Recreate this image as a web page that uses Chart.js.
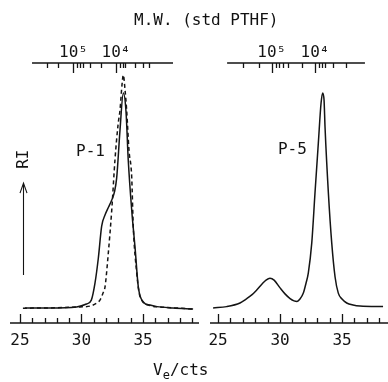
<!DOCTYPE html>
<html>
<head>
<meta charset="utf-8">
<script src="https://cdn.jsdelivr.net/npm/chart.js@4.4.0/dist/chart.umd.min.js"></script>
<style>
html, body { margin: 0; padding: 0; background: #fff; }
#wrap { position: relative; width: 388px; height: 382px; overflow: hidden;
        font-family: "DejaVu Sans Mono", monospace; color: #111; }
canvas { position: absolute; top: 0; }
.lbl { position: absolute; font-size: 16px; line-height: 16px; white-space: nowrap; }
.lbl sub { font-size: 12px; line-height: 0; vertical-align: -4px; }
</style>
</head>
<body>
<div id="wrap">
  <canvas id="p1" width="205" height="382" style="left:0"></canvas>
  <canvas id="p5" width="183" height="382" style="left:205px"></canvas>
  <div class="lbl" style="left:134px;top:12px">M.W. (std PTHF)</div>
  <div class="lbl" style="left:153px;top:362px">V<sub>e</sub>/cts</div>
</div>
<script>
// elution volume (counts) and RI response
const p1SolidVe = [25.4, 27.4, 29.6, 30.4, 30.8, 31.1, 31.37, 31.64, 31.91, 32.2, 32.46, 32.68, 32.86, 33.13, 33.4, 33.62, 33.8, 34.08, 34.35, 34.62, 35.02, 35.57, 36.14, 37.44, 39.07];
const p1SolidRI = [5.8, 5.8, 6.2, 7.3, 8.8, 15.4, 25, 37.3, 41.5, 44.6, 47.3, 50.4, 55.8, 74.2, 88.5, 81.2, 62.7, 43.5, 29.2, 13.8, 8.1, 6.9, 6.3, 5.8, 5.4];

const p1DashVe = [25.24, 27.44, 29.88, 30.69, 31.24, 31.5, 31.75, 31.91, 32.18, 32.46, 32.72, 32.97, 33.13, 33.29, 33.4, 33.54, 33.67, 33.86, 34.08, 34.21, 34.49, 34.67, 34.89, 35.57, 36.38, 37.6, 39.07];
const p1DashRI = [5.7, 5.8, 6.2, 6.5, 7.7, 8.8, 11.5, 13.8, 26.9, 43.5, 62.7, 76.2, 81.9, 91.5, 95.4, 89.6, 81.9, 66.5, 56.2, 36.9, 19.2, 11.9, 8.8, 6.7, 6.2, 5.8, 5.4];

const p5Ve = [24.6, 25.7, 26.77, 27.26, 27.72, 28.12, 28.55, 28.87, 29.19, 29.52, 30.0, 30.4, 30.81, 31.13, 31.37, 31.61, 31.88, 32.1, 32.28, 32.56, 32.82, 33.09, 33.31, 33.44, 33.55, 33.63, 33.9, 34.17, 34.44, 34.7, 35.0, 35.38, 35.89, 36.45, 38.31];
const p5RI = [5.8, 6.3, 7.7, 9.2, 10.8, 12.7, 15, 16.5, 17.2, 16.5, 13.5, 11.2, 9.4, 8.5, 8.3, 9.2, 11.5, 15.4, 19.2, 30.8, 50, 69.2, 84.6, 88.5, 85.8, 75.4, 50, 30.8, 17.7, 11.5, 9.2, 7.7, 6.9, 6.5, 6.3];

// bottom axis (counts)
const veTicks = [25, 26, 27, 28, 29, 30, 31, 32, 33, 34, 35, 36, 37, 38, 39];
const veLabels = [25, 30, 35];

// top axis: molecular weight calibration marks, placed in counts
const mwLabels = ['10\u2075', '10\u2074'];
const mwMajor1 = [29.35, 32.8];
const mwMinor1 = [27.17, 28.11, 29.63, 29.88, 30.12, 30.73, 31.59, 33.13, 33.35, 33.55, 34.35, 35.02, 35.49];
const mwMajor5 = [29.33, 32.82];
const mwMinor5 = [27.04, 28.33, 29.68, 29.94, 30.27, 30.67, 31.75, 33.17, 33.36, 33.63, 34.3, 35.32];

const ink = '#141414';
const monoFont = '"DejaVu Sans Mono", monospace';

// axis frame drawn inward, like the original plot
const gpcFrame = {
  id: 'gpcFrame',
  afterDraw(chart, args, o) {
    const { ctx, chartArea } = chart;
    const x = chart.scales.x, y = chart.scales.y;
    const base = chartArea.bottom, top = chartArea.top;
    const px = v => Math.round(x.getPixelForValue(v)) + 0.5;
    ctx.save();
    ctx.strokeStyle = ink;
    ctx.lineWidth = 1.3;
    ctx.beginPath();
    ctx.moveTo(chartArea.left, base);
    ctx.lineTo(chartArea.right, base);
    veTicks.forEach(v => {
      ctx.moveTo(px(v), base);
      ctx.lineTo(px(v), base - (veLabels.includes(v) ? 9 : 5));
    });
    ctx.moveTo(x.getPixelForValue(o.topFrom), top);
    ctx.lineTo(x.getPixelForValue(o.topTo), top);
    o.minor.forEach(v => { ctx.moveTo(px(v), top); ctx.lineTo(px(v), top + 5); });
    o.major.forEach(v => { ctx.moveTo(px(v), top); ctx.lineTo(px(v), top + 10); });
    ctx.stroke();

    ctx.fillStyle = ink;
    ctx.font = '16px ' + monoFont;
    ctx.textAlign = 'center';
    ctx.textBaseline = 'middle';
    ctx.fillText(o.name, x.getPixelForValue(o.nameAt[0]), y.getPixelForValue(o.nameAt[1]));

    if (o.arrow) {
      const ax = px(o.arrow.at);
      const y0 = y.getPixelForValue(o.arrow.from), y1 = y.getPixelForValue(o.arrow.to);
      ctx.lineWidth = 1.1;
      ctx.beginPath();
      ctx.moveTo(ax, y0); ctx.lineTo(ax, y1);
      ctx.moveTo(ax - 3.5, y1 + 10); ctx.lineTo(ax, y1); ctx.lineTo(ax + 3.5, y1 + 10);
      ctx.stroke();
      ctx.save();
      ctx.translate(ax, y.getPixelForValue(o.arrow.textAt));
      ctx.rotate(-Math.PI / 2);
      ctx.fillText('RI', 0, 0);
      ctx.restore();
    }
    ctx.restore();
  }
};

// fixed axis bands, no extra room for overhanging labels
const fixBand = h => s => {
  s.height = h;
  s.paddingLeft = 0;
  s.paddingRight = 0;
};

function makePanel(id, series, xMin, xMax, pad, frame) {
  new Chart(document.getElementById(id), {
    type: 'line',
    data: {
      datasets: series.map(s => ({
        data: s.ve.map((v, i) => ({ x: v, y: s.ri[i] })),
        borderColor: ink,
        borderWidth: 1.5,
        borderDash: s.dash || [],
        pointRadius: 0,
        cubicInterpolationMode: 'monotone',
        fill: false
      }))
    },
    options: {
      responsive: false,
      animation: false,
      events: [],
      layout: { padding: { left: pad[0], right: pad[1], top: 0, bottom: 0 } },
      plugins: { legend: { display: false }, tooltip: { enabled: false }, gpcFrame: frame },
      scales: {
        x: {
          type: 'linear', position: 'bottom', min: xMin, max: xMax,
          afterFit: fixBand(59),
          afterBuildTicks: s => { s.ticks = veLabels.map(v => ({ value: v })); },
          grid: { display: false, drawTicks: false },
          border: { display: false },
          ticks: { color: ink, padding: 8, maxRotation: 0, autoSkip: false,
                   font: { family: monoFont, size: 16 } }
        },
        x2: {
          type: 'linear', position: 'top', min: xMin, max: xMax,
          afterFit: fixBand(63),
          afterBuildTicks: s => { s.ticks = frame.major.map(v => ({ value: v })); },
          grid: { display: false, drawTicks: false },
          border: { display: false },
          ticks: { color: ink, padding: 1, maxRotation: 0, autoSkip: false,
                   font: { family: monoFont, size: 16 },
                   callback: (v, i) => mwLabels[i] }
        },
        y: { display: false, min: 0, max: 100 }
      }
    },
    plugins: [gpcFrame]
  });
}

makePanel('p1', [
  { ve: p1SolidVe, ri: p1SolidRI },
  { ve: p1DashVe, ri: p1DashRI, dash: [4, 3] }
], 24.19, 39.55, [10, 6], {
  name: 'P-1', nameAt: [30.73, 66],
  topFrom: 25.98, topTo: 37.44, major: mwMajor1, minor: mwMinor1,
  arrow: { at: 25.22, from: 18.5, to: 53.8, textAt: 63 }
});

makePanel('p5', [
  { ve: p5Ve, ri: p5RI }
], 24.35, 38.71, [5, 0], {
  name: 'P-5', nameAt: [31.0, 66.7],
  topFrom: 25.73, topTo: 36.85, major: mwMajor5, minor: mwMinor5
});
</script>
</body>
</html>
